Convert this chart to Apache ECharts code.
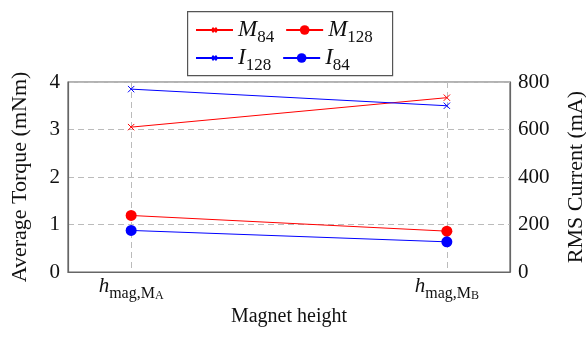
<!DOCTYPE html>
<html>
<head>
<meta charset="utf-8">
<script src="https://cdn.jsdelivr.net/npm/echarts@6/dist/echarts.min.js"></script>
<style>
  html, body { margin: 0; padding: 0; background: #fff; }
  #chart { width: 586px; height: 337px; }
</style>
</head>
<body>
<div id="chart"></div>
<script>
// magnet heights, placed at x = 1 and x = 2
var heights = [1, 2];
var heightTags = ['MA', 'MB'];

// torque (mNm), left axis
var m84 = [3.05, 3.67];
var m128 = [1.19, 0.86];
// current (mA), right axis
var i128 = [770, 700];
var i84 = [175, 127];

var torqueTicks = [0, 1, 2, 3, 4];
var currentTicks = [0, 200, 400, 600, 800];
var legendRows = [['M84', 'M128'], ['I128', 'I84']];

var RED = '#ff0000';
var BLUE = '#0000ff';
var FONT = '"Liberation Serif", "DejaVu Serif", serif';
// cross with empty margin around it, so it stays small in the legend too
var CROSS = 'path://M-6,-6L-6,-6M16,16L16,16M0,0L10,10M10,0L0,10';

function pairs(ys) {
    return heights.map((x, i) => [x, ys[i]]);
}

function mathRich(big, small, tiny) {
    return {
        v: { fontFamily: FONT, fontStyle: 'italic', fontSize: big, color: '#111', lineHeight: 22, verticalAlign: 'bottom' },
        s: { fontFamily: FONT, fontSize: small, color: '#111', lineHeight: 22, verticalAlign: 'bottom', padding: [0, 0, -5, 0] },
        sc: { fontFamily: FONT, fontSize: tiny, color: '#111', lineHeight: 22, verticalAlign: 'bottom', padding: [0, 0, -5, 0] }
    };
}

var chart = echarts.init(document.getElementById('chart'));

function line(name, data, color, symbol, size, yIdx) {
    return {
        name: name,
        type: 'line',
        yAxisIndex: yIdx,
        data: pairs(data),
        symbol: symbol,
        symbolSize: size,
        lineStyle: { color: color, width: 1 },
        itemStyle: { color: color, borderColor: color, borderWidth: symbol === CROSS ? 1 : 0 },
        emphasis: { disabled: true },
        animation: false
    };
}

function legendRow(names, top) {
    return {
        left: 187, top: top,
        padding: [7, 19, 7, 8],
        itemWidth: 37, itemHeight: 12, itemGap: 11,
        data: names,
        formatter: function (n) {
            return '{v|' + n[0] + '}{s|' + n.slice(1) + '}';
        },
        textStyle: { rich: mathRich(23, 17, 12), padding: [0, 2, 0, 0] }
    };
}

chart.setOption({
    animation: false,
    grid: {
        left: 68, right: 76, top: 82, bottom: 65,
        outerBoundsMode: 'none',
        containLabel: false,
        show: true, borderColor: '#666', borderWidth: 1.2
    },
    // frame round the two legend rows
    graphic: [{
        type: 'rect', left: 187, top: 11, z: -1,
        shape: { width: 205, height: 64 },
        style: { fill: '#fff', stroke: '#555', lineWidth: 1.2 }
    }],
    legend: [legendRow(legendRows[0], 11), legendRow(legendRows[1], 39)],
    xAxis: {
        type: 'value',
        min: 0.8, max: 2.2,
        name: 'Magnet height',
        nameLocation: 'middle',
        nameGap: 34,
        nameTextStyle: { fontFamily: FONT, fontSize: 20, color: '#111' },
        axisLine: { show: true, lineStyle: { color: '#666', width: 1.2 } },
        axisTick: { show: false, customValues: heights },
        axisLabel: {
            customValues: heights,
            margin: 3,
            formatter: function (v) {
                var t = heightTags[heights.indexOf(v)];
                return '{v|h}{s|mag,' + t[0] + '}{sc|' + t.slice(1) + '}';
            },
            rich: mathRich(21, 16, 12)
        },
        splitLine: { show: true, lineStyle: { color: '#bbb', type: [6, 4], width: 1 } }
    },
    yAxis: [
        {
            type: 'value',
            min: 0, max: 4, interval: 1,
            name: 'Average Torque (mNm)',
            nameLocation: 'middle',
            nameGap: 37,
            nameTextStyle: { fontFamily: FONT, fontSize: 22, color: '#111' },
            axisLine: { show: true, lineStyle: { color: '#666', width: 1.2 } },
            axisTick: { show: false },
            axisLabel: { fontFamily: FONT, fontSize: 21, color: '#111', margin: 8,
                formatter: v => torqueTicks.includes(v) ? String(v) : '' },
            splitLine: { show: true, lineStyle: { color: '#bbb', type: [6, 4], width: 1 } }
        },
        {
            type: 'value',
            min: 0, max: 800, interval: 200,
            name: 'RMS Current (mA)',
            nameLocation: 'middle',
            nameGap: 55,
            nameTextStyle: { fontFamily: FONT, fontSize: 22, color: '#111' },
            axisLine: { show: true, lineStyle: { color: '#666', width: 1.2 } },
            axisTick: { show: false },
            axisLabel: { fontFamily: FONT, fontSize: 21, color: '#111', margin: 8,
                formatter: v => currentTicks.includes(v) ? String(v) : '' },
            splitLine: { show: false }
        }
    ],
    series: [
        line('M84', m84, RED, CROSS, 14, 0),
        line('M128', m128, RED, 'circle', 11, 0),
        line('I128', i128, BLUE, CROSS, 14, 1),
        line('I84', i84, BLUE, 'circle', 11, 1)
    ]
});
</script>
</body>
</html>
